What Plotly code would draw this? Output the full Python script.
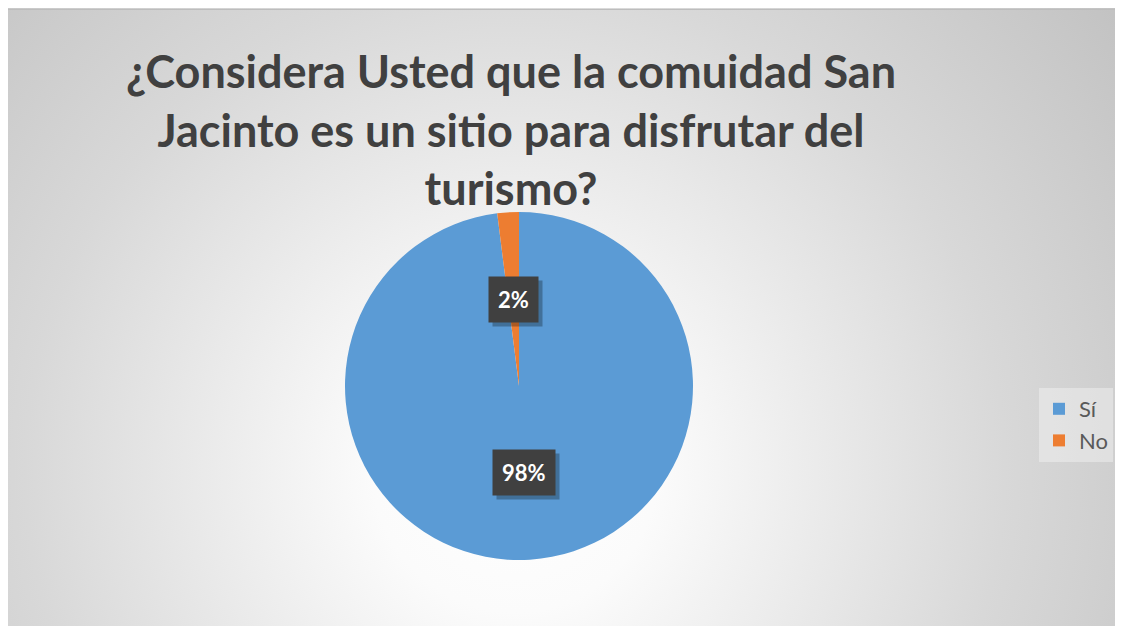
import math
import urllib.parse
import plotly.graph_objects as go

# ---- data ----
categories = ["Sí", "No"]
values = [98, 2]
colors = ["#5B9BD5", "#ED7D31"]
title_lines = ["¿Considera Usted que la comuidad San",
               "Jacinto es un sitio para disfrutar del",
               "turismo?"]

# the page body has an 8px margin, so the figure is sized to fit the window
W, H = 1107, 618
OFF = 8  # page offset of the figure
FONT = "Lato"

# pie geometry (figure pixels)
pcx, pcy, pr = 519 - OFF, 386 - OFF, 174
dom_x = [(pcx - pr) / W, (pcx + pr) / W]
dom_y = [1 - (pcy + pr) / H, 1 - (pcy - pr) / H]

fig = go.Figure()
fig.add_trace(go.Pie(
    labels=categories, values=values, sort=False, direction="clockwise",
    rotation=0, marker=dict(colors=colors, line=dict(color="white", width=0)),
    textinfo="none", hoverinfo="label+percent", domain=dict(x=dom_x, y=dom_y),
))

# background radial gradient (decorative)
svg = (
    f'<svg xmlns="http://www.w3.org/2000/svg" width="{W}" height="{H}" viewBox="0 0 {W} {H}">'
    '<defs><radialGradient id="g" gradientUnits="userSpaceOnUse" cx="507" cy="462" r="790">'
    '<stop offset="0" stop-color="#ffffff"/>'
    '<stop offset="0.18" stop-color="#fbfbfb"/>'
    '<stop offset="0.62" stop-color="#d8d8d8"/>'
    '<stop offset="1" stop-color="#c0c0c0"/>'
    '</radialGradient></defs>'
    f'<rect x="0" y="0" width="{W}" height="{H}" fill="url(#g)"/>'
    f'<line x1="0" y1="1.5" x2="{W}" y2="1.5" stroke="#bdbdbd" stroke-width="1"/>'
    '</svg>'
)
uri = "data:image/svg+xml;charset=utf-8," + urllib.parse.quote(svg)
fig.add_layout_image(dict(
    source=uri, xref="paper", yref="paper", x=0, y=1,
    sizex=1, sizey=1, xanchor="left", yanchor="top",
    sizing="stretch", layer="below",
))

# data labels placed at half radius along each slice's mid angle
total = sum(values)
cum = 0
annotations = []
for v in values:
    mid = (cum + v / 2) / total * 2 * math.pi
    cum += v
    dx = 0.5 * pr * math.sin(mid)
    dy = 0.5 * pr * math.cos(mid)
    ax = (pcx + dx) / W
    ay = 1 - (pcy - dy) / H
    txt = f"{round(v / total * 100)}%"
    common = dict(x=ax, y=ay, xref="paper", yref="paper", text=f"<b>{txt}</b>",
                  showarrow=False, xanchor="center", yanchor="middle", borderpad=9)
    annotations.append(dict(
        **common, font=dict(family=FONT, size=22, color="rgba(0,0,0,0)"),
        bgcolor="rgba(0,0,0,0.28)", xshift=4, yshift=-4,
    ))
    annotations.append(dict(
        **common, font=dict(family=FONT, size=22, color="white"),
        bgcolor="#404040",
    ))

fig.update_layout(
    width=W, height=H,
    margin=dict(l=0, r=0, t=0, b=0),
    paper_bgcolor="white", plot_bgcolor="white",
    title=dict(
        text="<b>" + "<br>".join(title_lines) + "</b>",
        x=(511 - OFF) / W, xanchor="center", y=1 - 80 / H, yanchor="top",
        font=dict(family=FONT, size=45, color="#404040"),
    ),
    legend=dict(
        x=(1039 - OFF) / W, y=1 - (388 - OFF) / H, xanchor="left", yanchor="top",
        bgcolor="rgba(255,255,255,0.35)", font=dict(family=FONT, size=22, color="#595959"),
        itemwidth=30,
    ),
    annotations=annotations,
)

fig.write_html("out.html")
